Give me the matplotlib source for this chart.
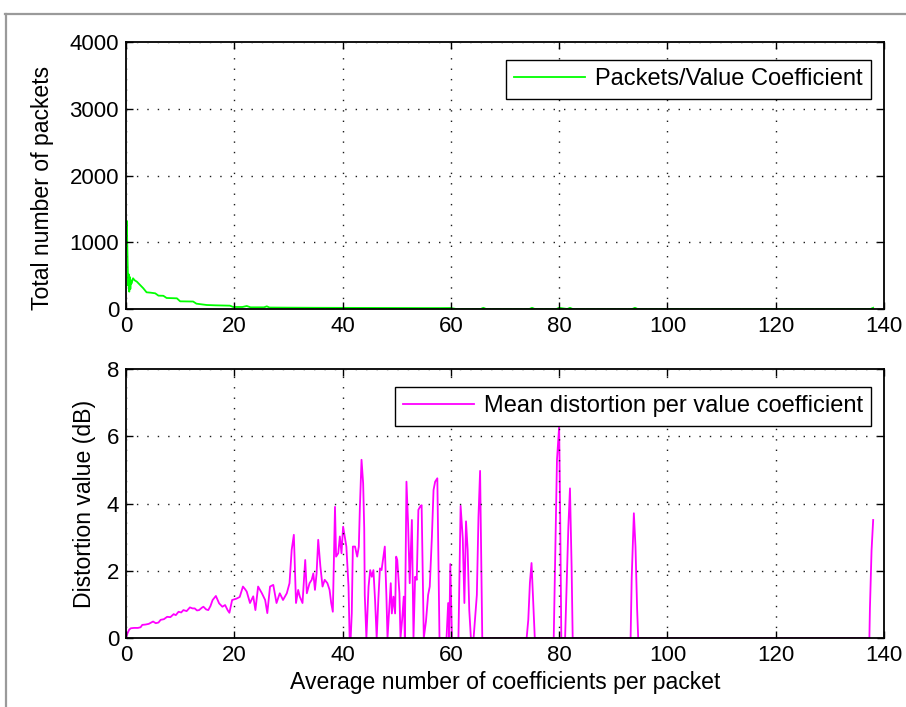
import matplotlib
matplotlib.use("Agg")
import matplotlib.pyplot as plt
from matplotlib.lines import Line2D

plt.rcParams["font.family"] = ["Liberation Sans", "DejaVu Sans"]

# packets per value coefficient (upper panel)
pkt_x = [0.0, 0.15, 0.3, 0.4, 0.5, 0.6, 0.7, 0.8, 0.9, 1.0, 1.3, 1.6, 2.0, 2.6,
         3.2, 3.8, 4.5, 5.4, 6.0, 6.9, 7.5, 9.4, 10.0, 12.4, 13.0, 14.9, 16.5,
         19.2, 19.8, 21.5, 22.3, 23.0, 25.5, 26.0, 26.5, 30.0, 35.0, 40.0, 45.0,
         50.0, 55.0, 58.0, 60.0, 61.0, 65.5, 66.0, 66.5, 74.5, 75.0, 75.5, 79.5,
         80.0, 81.5, 82.0, 82.5, 93.5, 94.0, 94.5, 137.5, 138.0]
pkt_y = [900, 1320, 700, 350, 520, 260, 480, 300, 430, 380, 460, 430, 410, 360,
         310, 250, 245, 235, 200, 198, 165, 160, 115, 112, 80, 60, 55,
         50, 30, 30, 45, 25, 25, 40, 22, 20, 18, 17, 16,
         15, 14, 14, 15, 0, 0, 18, 0, 0, 18, 0, 0,
         18, 0, 18, 0, 0, 18, 0, 0, 18]

# mean distortion per value coefficient (lower panel)
dist_x = [0.0, 0.3, 0.6, 0.9, 1.5, 2.2, 2.7, 3.0, 3.6, 4.2, 5.0, 5.5, 6.0, 6.4,
          7.0, 7.6, 8.2, 8.8, 9.2, 9.7, 10.2, 10.6, 11.2, 11.8, 12.3, 12.7,
          13.1, 13.5, 14.0, 14.3, 14.8, 15.2, 15.6, 16.0, 16.6, 17.0, 17.2,
          17.8, 18.3, 18.8, 19.1, 19.6, 20.0, 20.4, 21.0, 21.6, 22.0, 22.3,
          22.9, 23.5, 23.9, 24.4, 25.1, 25.7, 26.1, 26.6, 27.2, 27.8, 28.4,
          29.0, 29.7, 30.2, 30.6, 31.0, 31.4, 31.8, 32.1, 32.6, 33.1, 33.4,
          33.9, 34.3, 34.6, 34.9, 35.2, 35.5, 35.9, 36.3, 36.7, 37.2, 37.6,
          37.9, 38.2, 38.4, 38.6, 38.8, 39.2, 39.5, 39.8, 40.1, 40.4, 40.7,
          41.1, 41.3, 41.5, 41.7, 41.9, 42.3, 42.7, 43.0, 43.2, 43.5, 43.8,
          44.0, 44.1, 44.4, 44.8, 45.1, 45.4, 45.7, 46.0, 46.3, 46.6, 46.9,
          47.2, 47.5, 47.8, 48.1, 48.3, 48.6, 48.9, 49.1, 49.4, 49.7, 49.9,
          50.1, 50.5, 50.7, 51.0, 51.3, 51.5, 51.8, 52.1, 52.4, 52.8, 53.1,
          53.4, 53.7, 54.0, 54.3, 54.6, 54.8, 55.0, 55.4, 55.8, 56.1, 56.5,
          56.8, 57.1, 57.5, 57.9, 59.2, 59.5, 59.7, 59.9, 60.2, 61.4, 61.6,
          61.8, 62.2, 62.5, 62.8, 63.1, 63.4, 63.7, 64.2, 64.8, 65.1, 65.4,
          65.6, 65.8, 74.0, 74.3, 74.6, 74.9, 75.2, 75.5, 79.0, 79.2, 79.6,
          80.0, 80.2, 80.4, 81.1, 81.3, 81.7, 82.0, 82.3, 82.5, 93.2, 93.4,
          93.8, 94.1, 94.4, 94.6, 137.3, 137.4, 137.7, 138.0]
dist_y = [0.0, 0.15, 0.25, 0.29, 0.30, 0.30, 0.32, 0.39, 0.40, 0.42, 0.49, 0.44, 0.46, 0.54,
          0.56, 0.63, 0.62, 0.71, 0.68, 0.78, 0.76, 0.83, 0.80, 0.91, 0.88, 0.88,
          0.82, 0.83, 0.90, 0.93, 0.85, 0.83, 0.95, 1.13, 1.25, 1.10, 1.03,
          0.93, 0.98, 0.82, 0.75, 1.13, 1.15, 1.17, 1.22, 1.53, 1.45, 1.38,
          1.04, 1.24, 0.83, 1.53, 1.33, 1.13, 0.74, 1.53, 1.58, 1.04, 1.33,
          1.13, 1.33, 1.63, 2.62, 3.07, 1.04, 1.43, 1.23, 1.04, 2.32, 1.33,
          1.63, 1.73, 1.92, 1.43, 1.92, 2.92, 2.13, 1.53, 1.73, 1.63, 1.43,
          1.04, 0.78, 2.32, 3.90, 2.42, 2.52, 3.02, 2.52, 3.31, 3.02, 2.72,
          1.53, 0.0, 0.0, 0.74, 2.72, 2.72, 2.42, 2.72, 3.90, 5.30, 4.60,
          3.26, 1.28, 0.0, 1.53, 2.02, 1.82, 2.02, 1.13, 0.0, 1.13, 2.07,
          2.02, 2.37, 2.72, 1.23, 0.0, 0.83, 1.63, 0.73, 1.23, 0.73, 2.42,
          2.32, 1.33, 0.0, 0.54, 1.23, 0.0, 4.65, 3.41, 1.63, 3.51, 0.0,
          1.82, 1.73, 3.81, 3.90, 3.95, 2.00, 0.0, 0.49, 1.28, 1.53, 3.02,
          4.40, 4.65, 4.75, 0.0, 0.0, 1.04, 0.0, 2.20, 0.0, 0.0, 1.93,
          3.93, 2.96, 1.04, 3.47, 2.63, 0.83, 0.0, 0.0, 1.28, 3.60, 4.97,
          2.42, 0.0, 0.0, 0.54, 1.64, 2.23, 1.08, 0.0, 0.0, 1.74, 5.30,
          6.29, 3.50, 0.0, 0.0, 1.08, 3.30, 4.45, 2.13, 0.0, 0.0, 1.78,
          3.71, 2.72, 0.88, 0.0, 0.0, 0.88, 2.60, 3.51]

x_ticks = [0, 20, 40, 60, 80, 100, 120, 140]
pkt_ticks = [0, 1000, 2000, 3000, 4000]
dist_ticks = [0, 2, 4, 6, 8]

TICK_FONT = 16
LABEL_FONT = 16.6
LEGEND_FONT = 17


def style_axis(ax):
    ax.set_xlim(0, 140)
    ax.set_xticks(x_ticks)
    ax.tick_params(direction="in", top=True, right=True, length=5, width=1,
                   labelsize=TICK_FONT, pad=5)
    for spine in ax.spines.values():
        spine.set_linewidth(1.3)
        spine.set_color("black")
    ax.grid(True, color="#1a1a1a", linestyle=(0, (1, 6.5)), linewidth=1.0)
    ax.set_axisbelow(False)


fig = plt.figure(figsize=(9.06, 7.07), dpi=100)
fig.patch.set_facecolor("white")

ax_top = fig.add_axes([126 / 906, 1 - 309 / 707, 758 / 906, 267 / 707])
ax_bot = fig.add_axes([126 / 906, 1 - 638 / 707, 758 / 906, 269 / 707])

ax_top.plot(pkt_x, pkt_y, color="#00ff00", linewidth=1.3, zorder=1.5,
            label="Packets/Value Coefficient")
ax_top.set_ylim(0, 4000)
ax_top.set_yticks(pkt_ticks)
ax_top.set_ylabel("Total number of packets", fontsize=LABEL_FONT)
ax_top.yaxis.set_label_coords(-0.095, 0.455)
style_axis(ax_top)

ax_bot.plot(dist_x, dist_y, color="#ff00ff", linewidth=1.3, zorder=1.5,
            label="Mean distortion per value coefficient")
ax_bot.set_ylim(0, 8)
ax_bot.set_yticks(dist_ticks)
ax_bot.set_ylabel("Distortion value (dB)", fontsize=LABEL_FONT, labelpad=8)
ax_bot.set_xlabel("Average number of coefficients per packet",
                  fontsize=LABEL_FONT, labelpad=4)
style_axis(ax_bot)

for ax, anchor in ((ax_top, (0.9828, 0.9326)), (ax_bot, (0.9828, 0.933))):
    leg = ax.legend(loc="upper right", bbox_to_anchor=anchor, borderaxespad=0,
                    fontsize=LEGEND_FONT, fancybox=False, framealpha=1,
                    edgecolor="black", handlelength=3.0, handletextpad=0.42,
                    borderpad=0.35)
    leg.get_frame().set_linewidth(1.0)

# window frame along the top and left edges
fig.add_artist(Line2D([5 / 906, 1], [1 - 14 / 707, 1 - 14 / 707],
                      transform=fig.transFigure, color="#9a9a9a", linewidth=1.6))
fig.add_artist(Line2D([6 / 906, 6 / 906], [0, 1 - 14 / 707],
                      transform=fig.transFigure, color="#9a9a9a", linewidth=1.6))

fig.savefig("out.png", dpi=100)
